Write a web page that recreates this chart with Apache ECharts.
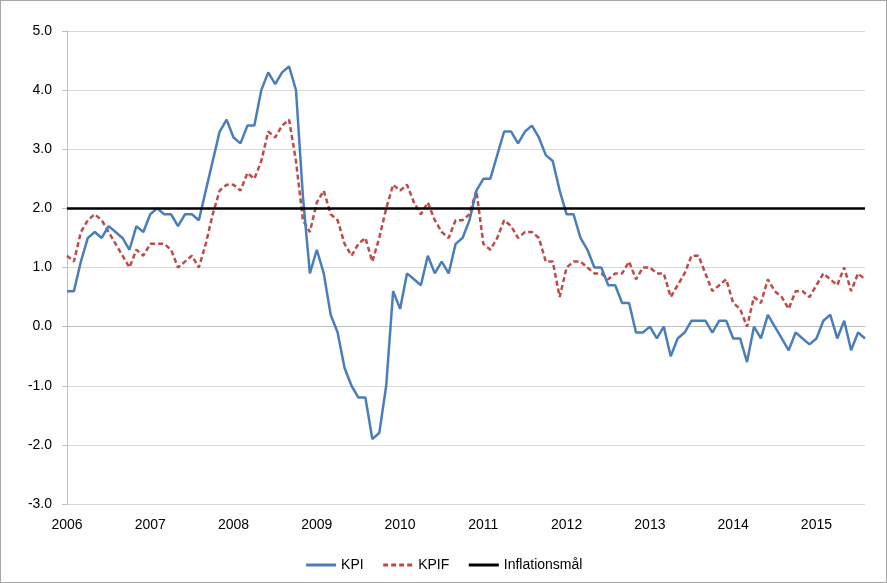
<!DOCTYPE html>
<html>
<head>
<meta charset="utf-8">
<title>KPI och KPIF</title>
<script src="https://cdn.jsdelivr.net/npm/echarts@6/dist/echarts.min.js"></script>
<style>
	html, body { margin: 0; padding: 0; background: #fff; }
	#chart { width: 887px; height: 583px; box-sizing: border-box; border: 1px solid #a6a6a6; }
</style>
</head>
<body>
<div id="chart"></div>
<script>
// månader jan 2006 - aug 2015
var years = [2006, 2007, 2008, 2009, 2010, 2011, 2012, 2013, 2014, 2015];
var months = [];
years.forEach(function (y) {
	for (var m = 1; m <= 12; m++) {
		if (y === 2015 && m > 8) break;
		months.push(y + '-' + (m < 10 ? '0' + m : m));
	}
});

var kpi = [
	0.6, 0.6, 1.1, 1.5, 1.6, 1.5, 1.7, 1.6, 1.5, 1.3, 1.7, 1.6,
	1.9, 2.0, 1.9, 1.9, 1.7, 1.9, 1.9, 1.8, 2.3, 2.8, 3.3, 3.5,
	3.2, 3.1, 3.4, 3.4, 4.0, 4.3, 4.1, 4.3, 4.4, 4.0, 2.2, 0.9,
	1.3, 0.9, 0.2, -0.1, -0.7, -1.0, -1.2, -1.2, -1.9, -1.8, -1.0, 0.6,
	0.3, 0.9, 0.8, 0.7, 1.2, 0.9, 1.1, 0.9, 1.4, 1.5, 1.8, 2.3,
	2.5, 2.5, 2.9, 3.3, 3.3, 3.1, 3.3, 3.4, 3.2, 2.9, 2.8, 2.3,
	1.9, 1.9, 1.5, 1.3, 1.0, 1.0, 0.7, 0.7, 0.4, 0.4, -0.1, -0.1,
	0.0, -0.2, 0.0, -0.5, -0.2, -0.1, 0.1, 0.1, 0.1, -0.1, 0.1, 0.1,
	-0.2, -0.2, -0.6, 0.0, -0.2, 0.2, 0.0, -0.2, -0.4, -0.1, -0.2, -0.3,
	-0.2, 0.1, 0.2, -0.2, 0.1, -0.4, -0.1, -0.2
];

var kpif = [
	1.2, 1.1, 1.6, 1.8, 1.9, 1.8, 1.6, 1.4, 1.2, 1.0, 1.3, 1.2,
	1.4, 1.4, 1.4, 1.3, 1.0, 1.1, 1.2, 1.0, 1.4, 1.9, 2.3, 2.4,
	2.4, 2.3, 2.6, 2.5, 2.8, 3.3, 3.2, 3.4, 3.5, 2.8, 1.8, 1.6,
	2.1, 2.3, 1.9, 1.8, 1.4, 1.2, 1.4, 1.5, 1.1, 1.5, 2.0, 2.4,
	2.3, 2.4, 2.1, 1.9, 2.1, 1.8, 1.6, 1.5, 1.8, 1.8, 1.9, 2.3,
	1.4, 1.3, 1.5, 1.8, 1.7, 1.5, 1.6, 1.6, 1.5, 1.1, 1.1, 0.5,
	1.0, 1.1, 1.1, 1.0, 0.9, 0.9, 0.8, 0.9, 0.9, 1.1, 0.8, 1.0,
	1.0, 0.9, 0.9, 0.5, 0.7, 0.9, 1.2, 1.2, 0.9, 0.6, 0.7, 0.8,
	0.4, 0.3, 0.0, 0.5, 0.4, 0.8, 0.6, 0.5, 0.3, 0.6, 0.6, 0.5,
	0.7, 0.9, 0.8, 0.7, 1.0, 0.6, 0.9, 0.8
];

var malValue = 2.0;
var mal = months.map(function () { return malValue; });

var fontFam = '"Liberation Sans", Arial, sans-serif';

var chart = echarts.init(document.getElementById('chart'));

var option = {
	animation: false,
	grid: { left: 66, right: 21, top: 30, bottom: 78 },
	legend: {
		bottom: 5,
		left: 'center',
		itemWidth: 30,
		itemHeight: 10,
		itemGap: 18,
		itemStyle: { opacity: 0 },
		lineStyle: { width: 3 },
		textStyle: { fontFamily: fontFam, fontSize: 14, color: '#000' },
		data: ['KPI', 'KPIF', 'Inflationsmål']
	},
	xAxis: {
		type: 'category',
		boundaryGap: false,
		data: months,
		axisLine: { lineStyle: { color: '#bfbfbf', width: 1 } },
		axisTick: { show: false },
		axisLabel: {
			interval: function (i) { return i % 12 === 0; },
			formatter: function (v) { return v.slice(0, 4); },
			fontFamily: fontFam,
			fontSize: 14,
			color: '#000',
			margin: 14
		},
		splitLine: { show: false }
	},
	yAxis: {
		type: 'value',
		min: -3,
		max: 5,
		interval: 1,
		axisLine: { show: true, lineStyle: { color: '#bfbfbf', width: 1 } },
		axisTick: { show: true, length: 5, lineStyle: { color: '#bfbfbf' } },
		axisLabel: {
			formatter: function (v) { return v.toFixed(1); },
			fontFamily: fontFam,
			fontSize: 14,
			color: '#000',
			margin: 15
		},
		splitLine: { lineStyle: { color: '#d9d9d9', width: 1 } }
	},
	series: [
		{
			name: 'KPI',
			type: 'line',
			data: kpi,
			symbol: 'none',
			lineStyle: { color: '#4a7ebb', width: 2.5 },
			itemStyle: { color: '#4a7ebb' },
			z: 3
		},
		{
			name: 'KPIF',
			type: 'line',
			data: kpif,
			symbol: 'none',
			lineStyle: { color: '#be4b48', width: 2.5, type: [5, 3] },
			itemStyle: { color: '#be4b48' },
			z: 2
		},
		{
			name: 'Inflationsmål',
			type: 'line',
			data: mal,
			symbol: 'none',
			lineStyle: { color: '#000', width: 2.5 },
			itemStyle: { color: '#000' },
			z: 4
		}
	]
};

chart.setOption(option);
</script>
</body>
</html>
